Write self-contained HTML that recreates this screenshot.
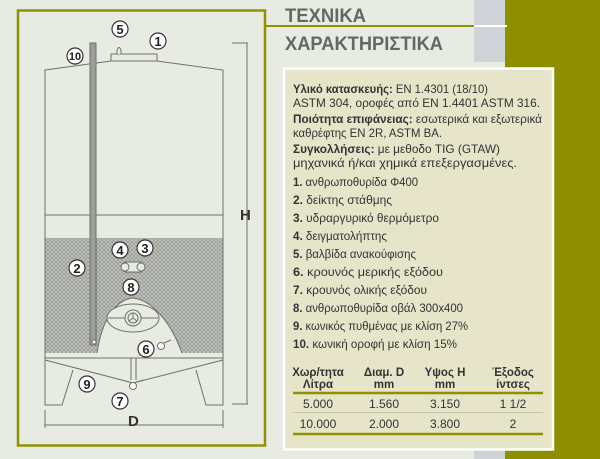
<!DOCTYPE html>
<html><head><meta charset="utf-8"><style>
html,body{margin:0;padding:0;background:#e7ebe2;}
svg{display:block;font-family:"Liberation Sans","DejaVu Sans",sans-serif;}
</style></head><body>
<svg width="600" height="459" viewBox="0 0 600 459" xmlns="http://www.w3.org/2000/svg">
<defs>
<pattern id="hx" width="4" height="4" patternUnits="userSpaceOnUse">
<rect width="4" height="4" fill="#c7cac3"/>
<circle cx="2" cy="2" r="1.4" fill="none" stroke="#8e918b" stroke-width="0.8"/>
</pattern>
</defs>
<rect width="600" height="459" fill="#e7ebe2"/>
<rect x="474" y="0" width="31" height="62" fill="#cfd2d6"/>
<rect x="474" y="448" width="31" height="11" fill="#cfd2d6"/>
<rect x="505" y="0" width="95" height="459" fill="#8d8f00"/>
<rect x="18" y="10.5" width="247" height="435" fill="none" stroke="#8f9100" stroke-width="2.5"/>
<line x1="265" y1="26" x2="474" y2="26" stroke="#8f9100" stroke-width="2"/>
<line x1="474" y1="26" x2="507" y2="26" stroke="#ffffff" stroke-width="2"/>
<text x="285" y="22" font-size="19" font-weight="bold" fill="#656767" textLength="81" lengthAdjust="spacingAndGlyphs">ΤΕΧΝΙΚΑ</text>
<text x="285" y="50" font-size="19" font-weight="bold" fill="#656767" textLength="158" lengthAdjust="spacingAndGlyphs">ΧΑΡΑΚΤΗΡΙΣΤΙΚΑ</text>
<g stroke="#6e706c" stroke-width="1" fill="none">
<rect x="45" y="238" width="178" height="115" fill="url(#hx)" stroke="none"/>
<path d="M97,353 C102,320 115,300 133,298 C151,300 170,320 182,353 Z" fill="#e7ebe2" stroke="none"/>
<path d="M97,353 C102,320 115,300 133,298 C151,300 170,320 182,353"/>
<path d="M45,70 L111,61 L157,61 L223,70 L223,358 L45,358 Z"/>
<rect x="111" y="54" width="46" height="7"/>
<path d="M117,54 L117,50 Q119,45 121,50 L121,54" fill="#e7ebe2"/>
<line x1="45" y1="215" x2="223" y2="215"/>
<line x1="45" y1="358" x2="223" y2="358"/>
<path d="M45,360 L133,383 L223,360"/>
<path d="M45,358 L45,405 L62,405 L73,370"/>
<path d="M223,358 L223,405 L206,405 L196,370"/>
<rect x="90" y="43" width="6" height="302" fill="#9c9e9a" stroke="#6e706c"/>
<circle cx="94" cy="342" r="2" fill="#fff"/>
<ellipse cx="133" cy="318" rx="26" ry="14" fill="#e7ebe2"/>
<line x1="108" y1="318" x2="158" y2="318"/>
<circle cx="133" cy="318" r="8" fill="#e7ebe2"/>
<circle cx="133" cy="318" r="5"/>
<path d="M133,318 L133,313 M133,318 L129,321 M133,318 L137,321"/>
<rect x="123" y="262" width="20" height="10" rx="3" fill="#e7ebe2"/>
<circle cx="125" cy="267" r="4" fill="#e7ebe2"/>
<circle cx="141" cy="267" r="4" fill="#e7ebe2"/>
<line x1="131" y1="358" x2="131" y2="380"/><line x1="136" y1="358" x2="136" y2="380"/>
<circle cx="133" cy="386" r="3.5" fill="#fff"/>
<line x1="136" y1="382" x2="144" y2="380"/>
<circle cx="161" cy="346" r="3.5" fill="#fff"/>
<line x1="164" y1="343" x2="171" y2="340"/>
<line x1="232" y1="43" x2="248" y2="43"/><line x1="232" y1="404" x2="248" y2="404"/>
<line x1="247" y1="43" x2="247" y2="404"/>
<line x1="45" y1="410" x2="45" y2="428"/><line x1="223" y1="410" x2="223" y2="428"/>
<line x1="45" y1="425" x2="223" y2="425"/>
</g>
<text x="240" y="220" font-size="15" font-weight="bold" fill="#333">H</text>
<text x="128" y="426" font-size="15" font-weight="bold" fill="#333">D</text>
<g font-size="13" font-weight="bold" fill="#222" text-anchor="middle">
<g fill="#fff" stroke="#333" stroke-width="1.2">
<circle cx="120" cy="29" r="8"/><circle cx="158" cy="41" r="8"/><circle cx="75" cy="56" r="8"/>
<circle cx="77" cy="268" r="8"/><circle cx="120" cy="250" r="8"/><circle cx="145" cy="248" r="8"/>
<circle cx="131" cy="287" r="8"/><circle cx="146" cy="349" r="8"/><circle cx="87" cy="384" r="8"/><circle cx="120" cy="401" r="8"/>
</g>
<text x="120" y="34">5</text><text x="158" y="46">1</text><text x="75" y="60" font-size="11">10</text>
<text x="77" y="273">2</text><text x="120" y="255">4</text><text x="145" y="253">3</text>
<text x="131" y="292">8</text><text x="146" y="354">6</text><text x="87" y="389">9</text><text x="120" y="406">7</text>
</g>
<rect x="284" y="68.5" width="269" height="381" fill="#e6e4c9" stroke="#ffffff" stroke-width="2.5"/>
<g font-size="12" fill="#333">
<text x="293" y="93" textLength="195" lengthAdjust="spacingAndGlyphs"><tspan font-weight="bold">Υλικό κατασκευής:</tspan> EN 1.4301 (18/10)</text>
<text x="293" y="107" textLength="247" lengthAdjust="spacingAndGlyphs">ASTM 304, οροφές από EN 1.4401 ASTM 316.</text>
<text x="293" y="123" textLength="249" lengthAdjust="spacingAndGlyphs"><tspan font-weight="bold">Ποιότητα επιφάνειας:</tspan> εσωτερικά και εξωτερικά</text>
<text x="293" y="137" textLength="149" lengthAdjust="spacingAndGlyphs">καθρέφτης EN 2R, ASTM BA.</text>
<text x="293" y="153" textLength="207" lengthAdjust="spacingAndGlyphs"><tspan font-weight="bold">Συγκολλήσεις:</tspan> με μεθοδο TIG (GTAW)</text>
<text x="293" y="167" textLength="224" lengthAdjust="spacingAndGlyphs">μηχανικά ή/και χημικά επεξεργασμένες.</text>
<text x="293" y="186" textLength="125" lengthAdjust="spacingAndGlyphs"><tspan font-weight="bold">1.</tspan> ανθρωποθυρίδα Φ400</text>
<text x="293" y="204" textLength="99" lengthAdjust="spacingAndGlyphs"><tspan font-weight="bold">2.</tspan> δείκτης στάθμης</text>
<text x="293" y="222" textLength="146" lengthAdjust="spacingAndGlyphs"><tspan font-weight="bold">3.</tspan> υδραργυρικό θερμόμετρο</text>
<text x="293" y="240" textLength="94" lengthAdjust="spacingAndGlyphs"><tspan font-weight="bold">4.</tspan> δειγματολήπτης</text>
<text x="293" y="258" textLength="123" lengthAdjust="spacingAndGlyphs"><tspan font-weight="bold">5.</tspan> βαλβίδα ανακούφισης</text>
<text x="293" y="276" textLength="150" lengthAdjust="spacingAndGlyphs"><tspan font-weight="bold">6.</tspan> κρουνός μερικής εξόδου</text>
<text x="293" y="294" textLength="134" lengthAdjust="spacingAndGlyphs"><tspan font-weight="bold">7.</tspan> κρουνός ολικής εξόδου</text>
<text x="293" y="312" textLength="170" lengthAdjust="spacingAndGlyphs"><tspan font-weight="bold">8.</tspan> ανθρωποθυρίδα οβάλ 300x400</text>
<text x="293" y="330" textLength="175" lengthAdjust="spacingAndGlyphs"><tspan font-weight="bold">9.</tspan> κωνικός πυθμένας με κλίση 27%</text>
<text x="293" y="348" textLength="164" lengthAdjust="spacingAndGlyphs"><tspan font-weight="bold">10.</tspan> κωνική οροφή με κλίση 15%</text>
</g>
<g font-size="11.5" font-weight="bold" fill="#333" text-anchor="middle">
<text x="318" y="376">Χωρ/τητα</text><text x="318" y="388">Λίτρα</text>
<text x="384" y="376">Διαμ. D</text><text x="384" y="388">mm</text>
<text x="445" y="376">Υψος H</text><text x="445" y="388">mm</text>
<text x="513" y="376">Έξοδος</text><text x="513" y="388">ίντσες</text>
</g>
<line x1="293" y1="393" x2="543" y2="393" stroke="#8f9100" stroke-width="2.5"/>
<line x1="293" y1="412.5" x2="543" y2="412.5" stroke="#c8c6ad" stroke-width="1"/>
<line x1="293" y1="434" x2="543" y2="434" stroke="#8f9100" stroke-width="2.5"/>
<g font-size="12" fill="#333" text-anchor="middle">
<text x="318" y="408">5.000</text><text x="384" y="408">1.560</text><text x="445" y="408">3.150</text><text x="513" y="408">1 1/2</text>
<text x="318" y="428">10.000</text><text x="384" y="428">2.000</text><text x="445" y="428">3.800</text><text x="513" y="428">2</text>
</g>
</svg>
</body></html>
